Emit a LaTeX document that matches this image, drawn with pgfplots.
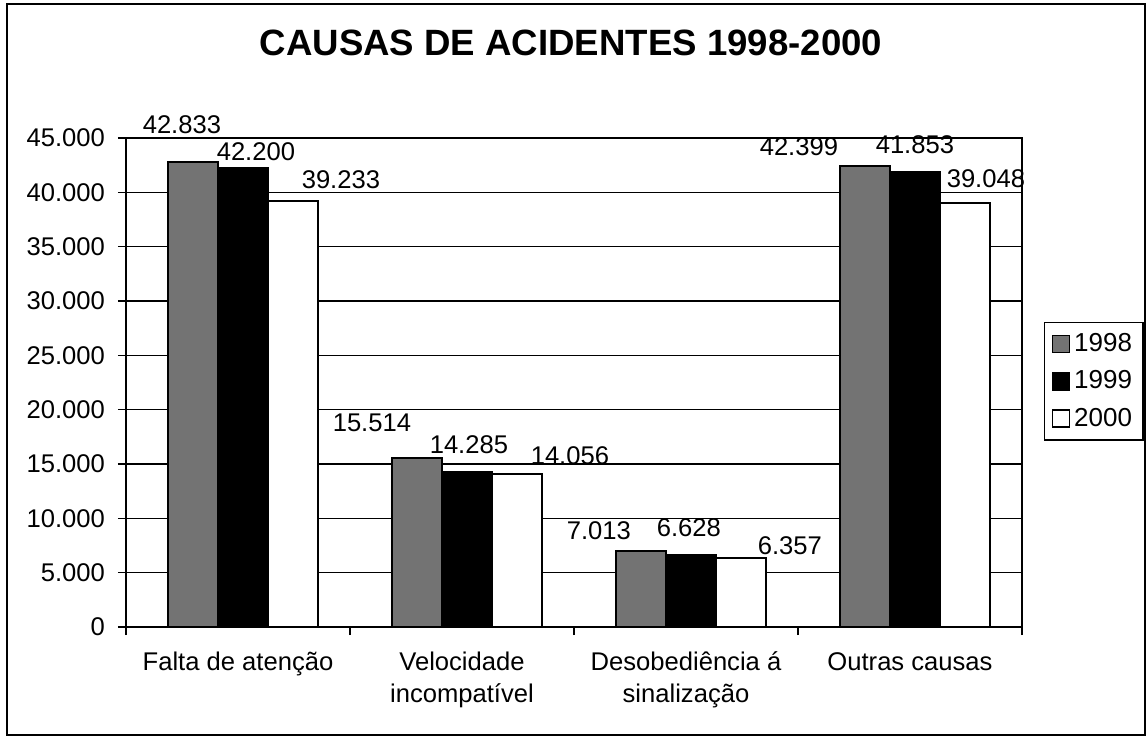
\documentclass[border=0pt]{standalone}
\usepackage{fontspec}
\setmainfont{Liberation Sans}
\usepackage{pgfplots}
\pgfplotsset{compat=1.18}
\usepackage{pgfplotstable}

\pgfplotstableread{
x y dx dy
0.022 42833 -5.5 18.5
1.022 15514 -22.5 18
2.022 7013 -21 10
3.022 42399 -33 10
}\dataA
\pgfplotstableread{
x y dx dy
0.022 42200 6.5 8.5
1.022 14285 1 13.5
2.022 6628 -1 13.5
3.022 41853 0 14
}\dataB
\pgfplotstableread{
x y dx dy
0.022 39233 24 10.5
1.022 14056 26.5 9.5
2.022 6357 24.5 6
3.022 39048 10.5 12
}\dataC

\pgfplotsset{
  lbl/.style={
    nodes near coords={\pgfmathprintnumber[fixed,precision=0,1000 sep={.},assume math mode=true]{\pgfplotspointmeta}},
    point meta=\thisrow{y},
    visualization depends on={\thisrow{dx} \as \dx},
    visualization depends on={\thisrow{dy} \as \dy},
    every node near coord/.append style={font=\fontsize{12.8}{14}\selectfont, anchor=center, xshift=\dx pt, yshift=\dy pt, black},
  }
}

\begin{document}
\begin{tikzpicture}
\useasboundingbox (-63pt,-56.5pt) rectangle (511pt,313.5pt);
\draw[line width=1pt] (-59.5pt,-54pt) rectangle (509.5pt,311.5pt);
\begin{axis}[
  at={(0,0)}, anchor=south west,
  scale only axis, width=448pt, height=244.5pt,
  ybar,
  xmin=-0.5, xmax=3.5,
  ymin=0, ymax=45000,
  ytick={0,5000,...,45000},
  scaled y ticks=false,
  /pgf/number format/1000 sep={.},
  /pgf/number format/assume math mode=true,
  xtick={-0.5,0.5,1.5,2.5,3.5},
  xticklabels={{},{},{},{},{}},
  extra x ticks={0,1,2,3},
  extra x tick labels={{\strut Falta de atenção},{\strut Velocidade\\incompatível},{\strut Desobediência á\\sinalização},{\strut Outras causas}},
  extra x tick style={major tick length=0pt, grid=none},
  xtick pos=bottom, ytick pos=left,
  tick align=outside,
  major tick length=4pt,
  ymajorgrids,
  grid style={black, line width=0.6pt},
  axis line style={black, line width=0.8pt},
  tick style={black, line width=0.8pt},
  x tick label style={font=\fontsize{12.8}{16}\selectfont, align=center, yshift=-7pt},
  y tick label style={font=\fontsize{12.8}{14}\selectfont, xshift=-3pt},
  bar width=0.2232,
  legend style={at={(axis description cs:1.0246,0.6237)}, anchor=north west,
    draw=black, line width=0.6pt, inner xsep=3.5pt, inner ysep=3.5pt, row sep=4pt,
    font=\fontsize{13}{15}\selectfont},
  legend cell align=left,
  clip=false,
]
\addplot[fill=black!55, draw=black, line width=1pt, bar shift=-0.2232, lbl,
  legend image code/.code={\draw[fill=black!55,draw=black,line width=0.8pt] (0pt,-4.25pt) rectangle (8.5pt,4.25pt);}]
  table[x=x,y=y] {\dataA};
\addplot[fill=black, draw=black, line width=1pt, bar shift=0, lbl,
  legend image code/.code={\draw[fill=black,draw=black,line width=0.8pt] (0pt,-4.25pt) rectangle (8.5pt,4.25pt);}]
  table[x=x,y=y] {\dataB};
\addplot[fill=white, draw=black, line width=1pt, bar shift=0.2232, lbl,
  legend image code/.code={\draw[fill=white,draw=black,line width=0.8pt] (0pt,-4.25pt) rectangle (8.5pt,4.25pt);}]
  table[x=x,y=y] {\dataC};
\legend{1998,1999,2000}
\end{axis}
\node[font=\bfseries\fontsize{18.3}{21}\selectfont] at (222.5pt,292pt) {CAUSAS DE ACIDENTES 1998-2000};
\end{tikzpicture}
\end{document}
